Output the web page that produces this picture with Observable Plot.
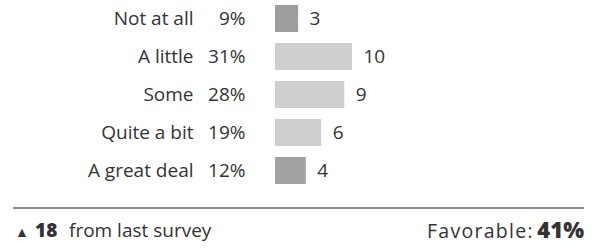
<!DOCTYPE html>
<html>
<head>
<meta charset="utf-8">
<script src="https://cdn.jsdelivr.net/npm/d3@7"></script>
<script src="https://cdn.jsdelivr.net/npm/@observablehq/plot@0.6"></script>
<style>
  html, body { margin: 0; padding: 0; background: #fff; }
  body { width: 597px; height: 248px; position: relative; overflow: hidden; font-family: "Open Sans", sans-serif; color: #333; }
  #chart svg { display: block; }
  #rule { position: absolute; left: 13px; top: 207px; width: 571px; height: 0; border-top: 2px solid #8e8e8e; }
  .ft { position: absolute; white-space: nowrap; line-height: 1; }
  #tri { left: 15px; top: 225px; font-size: 14px; color: #333; }
  #chg { left: 35px; top: 221px; font-size: 19px; font-weight: 800; }
  #from { left: 69px; top: 221px; font-size: 19px; }
  #favlab { right: 63px; top: 221px; font-size: 19.5px; letter-spacing: 1.3px; }
  #fav { right: 13px; top: 218px; font-size: 22px; font-weight: 800; }
</style>
</head>
<body>
<div id="chart"></div>
<div id="rule"></div>
<span class="ft" id="tri">&#9650;</span>
<span class="ft" id="chg"></span>
<span class="ft" id="from">from last survey</span>
<span class="ft" id="favlab">Favorable:</span>
<span class="ft" id="fav"></span>
<script>
const categories = ["Not at all", "A little", "Some", "Quite a bit", "A great deal"];
const percents = [9, 31, 28, 19, 12];
const counts = [3, 10, 9, 6, 4];
const favorable = 41;
const changeFromLast = 18;

const data = categories.map((c, i) => ({category: c, percent: percents[i], count: counts[i]}));

const font = "Open Sans, sans-serif";
const chart = Plot.plot({
  width: 597,
  height: 200,
  margin: 0,
  style: {fontFamily: font, fontSize: "19px", color: "#333", background: "#fff"},
  x: {domain: [0, 10], range: [275, 352], axis: null},
  y: {domain: categories, range: [-6.5, 195.7], padding: 0.28, axis: null},
  color: {domain: categories, range: ["#9d9d9d", "#cfcfcf", "#cfcfcf", "#cfcfcf", "#a3a3a3"]},
  marks: [
    Plot.barX(data, {x: "count", y: "category", fill: "category"}),
    Plot.text(data, {y: "category", text: "category", frameAnchor: "left", dx: 193, textAnchor: "end", fill: "#333", fontSize: 19}),
    Plot.text(data, {y: "category", text: d => d.percent + "%", frameAnchor: "left", dx: 245, textAnchor: "end", fill: "#333", fontSize: 19}),
    Plot.text(data, {x: "count", y: "category", text: d => String(d.count), dx: 11, textAnchor: "start", fill: "#333", fontSize: 19})
  ]
});
document.getElementById("chart").appendChild(chart);
document.getElementById("chg").textContent = changeFromLast;
document.getElementById("fav").textContent = favorable + "%";
</script>
</body>
</html>
